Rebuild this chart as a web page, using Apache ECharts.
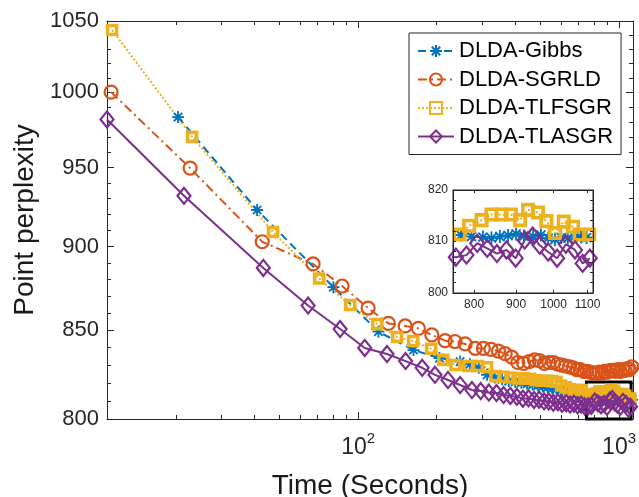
<!DOCTYPE html>
<html>
<head>
<meta charset="utf-8">
<script src="https://cdn.jsdelivr.net/npm/echarts@6/dist/echarts.min.js"></script>
<style>
html, body { margin: 0; padding: 0; background: #fff; }
#chart { width: 639px; height: 497px; }
</style>
</head>
<body>
<div id="chart"></div>
<script>
// time (seconds) / perplexity
var gibbsT = [20.4, 41, 80.4, 119.6, 163, 205, 246, 268, 290, 312, 334, 356, 378, 400, 422, 444, 466, 488, 510, 532, 554, 576, 598, 620, 642, 664, 686, 708, 730, 752, 771, 794, 820, 840, 860, 880, 900, 920, 944, 965, 985, 1004, 1022, 1041, 1063, 1080, 1097, 1120];
var gibbsV = [983.3, 922.8, 875.4, 849.2, 838.6, 834, 832, 830.5, 828.5, 824.5, 823, 822, 821, 820.5, 820, 819.5, 819, 818.5, 818, 817.5, 817, 816.5, 816, 815, 814.5, 814, 813.5, 813, 812.5, 812, 811.2, 810.9, 810.8, 810.6, 810.9, 811.1, 811.4, 811.0, 810.9, 811.2, 810.6, 810.3, 810.7, 810.6, 811.0, 810.8, 810.7, 810.6];

var sgrldT = [11.3, 22.7, 42.9, 67.2, 86.8, 109.2, 130.6, 151.4, 170.2, 191.6, 215.4, 235, 257, 281, 302, 323, 345, 366, 388, 409, 431, 452, 474, 495, 517, 538, 560, 581, 603, 624, 646, 667, 689, 710, 732, 753, 775, 796, 818, 839, 861, 882, 904, 925, 947, 968, 990, 1011, 1033, 1054, 1076, 1097, 1119];
var sgrldV = [1000.2, 949.6, 903, 889.4, 876.1, 863, 854, 852.5, 851.1, 847.3, 844, 843.5, 842.1, 839.6, 839.5, 839, 838, 836.5, 834.5, 831.5, 831, 832, 833, 832.5, 831, 831.5, 831.5, 830.5, 830, 829.5, 829, 828.5, 827.5, 827.5, 826.5, 826.5, 826, 825.5, 825.5, 826, 825.5, 826.5, 826, 827, 827, 826.5, 827.5, 826.5, 827.5, 827, 828, 827.5, 829];

var tlfsgrT = [11.4, 23.1, 47.2, 70.9, 93.2, 118.3, 141, 162.5, 190.5, 212, 236, 264, 288, 312, 336, 360, 384, 408, 432, 456, 480, 504, 528, 552, 576, 600, 624, 648, 672, 696, 720, 744, 768, 789, 817, 840, 864, 887, 910, 931, 957, 980, 1004, 1029, 1056, 1076, 1105];
var tlfsgrV = [1043.6, 970.1, 909, 880.6, 864.8, 853.6, 846.1, 843.8, 839.3, 833, 830.1, 829.5, 829.5, 828.8, 823.8, 823.4, 823, 822.5, 822.5, 822.3, 821.5, 821.2, 821.2, 821, 820.6, 818.5, 817.5, 816.5, 816, 816, 816, 813.5, 811.3, 813.0, 814.1, 815.2, 815.2, 815.2, 814.1, 816.1, 815.6, 813.9, 811.6, 813.8, 812.8, 811.3, 811.3];

var tlasgrT = [10.9, 21.5, 43.3, 64.3, 85.3, 106, 129, 152, 176, 197, 221, 246, 273, 295, 317, 339, 361, 383, 406, 428, 450, 472, 494, 516, 538, 560, 583, 605, 627, 649, 671, 694, 716, 738, 760, 783, 807, 830, 853, 876, 899, 922, 943, 962, 985, 1010, 1035, 1062, 1085, 1107];
var tlasgrV = [981.7, 931.8, 887, 864.5, 850.7, 839.8, 836.3, 832.3, 828.5, 824.5, 821.6, 818.8, 816, 815.4, 814.6, 814.3, 813.2, 812.7, 812.2, 811.2, 811.4, 810.5, 810.6, 809.7, 809.6, 808.9, 809.2, 808.3, 808.7, 807.9, 808.4, 807.5, 807.9, 807.0, 806.9, 807.3, 809.6, 808.6, 807.6, 808.3, 806.7, 810.2, 811.0, 809.2, 807.9, 806.7, 809.4, 808.3, 805.7, 806.7];

// axis ticks
var xMajor = [100, 1000];
var xMinor = [20, 30, 40, 50, 60, 70, 80, 90, 200, 300, 400, 500, 600, 700, 800, 900];
var yMajor = [800, 850, 900, 950, 1000, 1050];
var yMinor = [810, 820, 830, 840, 860, 870, 880, 890, 910, 920, 930, 940, 960, 970, 980, 990, 1010, 1020, 1030, 1040];
var insetXTicks = [800, 900, 1000, 1100];
var insetYLabels = [800, 810, 820];
var insetYTicks = [800, 802, 804, 806, 808, 810, 812, 814, 816, 818, 820];

// zoomed region (shown in the inset)
var zoomBoxT = [750, 1112];
var zoomBoxV = [800, 820.5];

var names = ['DLDA-Gibbs', 'DLDA-SGRLD', 'DLDA-TLFSGR', 'DLDA-TLASGR'];

var FONT = '"Liberation Sans", Arial, sans-serif';
var AXC = '#262626';
var cGibbs = '#0072BD', cSgrld = '#D95319', cTlfsgr = '#EDB120', cTlasgr = '#7E2F8E';
var STAR = 'path://M0,-10L0,10M-10,0L10,0M-7,-7L7,7M-7,7L7,-7';
var NONE = 'rgba(0,0,0,0)';

function pairs(t, v) {
	return t.map(function(x, i) { return [x, v[i]]; });
}

function plain(v) {
	return String(Math.round(v));
}

function axisX(opt) {
	return Object.assign({
		type: 'log',
		min: 10.9,
		max: 1131,
		gridIndex: 0,
		axisLine: { show: false, lineStyle: { color: AXC, width: 1 } },
		axisTick: { inside: true, length: 4, lineStyle: { color: AXC } },
		axisLabel: { show: false },
		splitLine: { show: false },
		minorTick: { show: false }
	}, opt);
}

function axisY(opt) {
	return Object.assign({
		type: 'log',
		min: 800,
		max: 1050,
		gridIndex: 0,
		axisLine: { show: false, lineStyle: { color: AXC, width: 1 } },
		axisTick: { inside: true, length: 4, lineStyle: { color: AXC } },
		axisLabel: { show: false },
		splitLine: { show: false }
	}, opt);
}

var styles = {
	'DLDA-Gibbs': {
		symbol: STAR, symbolSize: 12, insetSize: 13,
		lineStyle: { color: cGibbs, width: 2, type: [8, 5] },
		itemStyle: { color: cGibbs, borderColor: cGibbs, borderWidth: 1.8 }
	},
	'DLDA-SGRLD': {
		symbol: 'circle', symbolSize: 13, insetSize: 13,
		lineStyle: { color: cSgrld, width: 2, type: [9, 4, 2, 4] },
		itemStyle: { color: NONE, borderColor: cSgrld, borderWidth: 2.2 }
	},
	'DLDA-TLFSGR': {
		symbol: 'rect', symbolSize: 9, insetSize: 10.5,
		lineStyle: { color: cTlfsgr, width: 2, type: [2, 2] },
		itemStyle: { color: NONE, borderColor: cTlfsgr, borderWidth: 3.6 }
	},
	'DLDA-TLASGR': {
		symbol: 'diamond', symbolSize: [13, 16], insetSize: [14, 17],
		lineStyle: { color: cTlasgr, width: 2, type: 'solid' },
		itemStyle: { color: NONE, borderColor: cTlasgr, borderWidth: 2.2 }
	}
};

function lineSeries(name, t, v, xi, yi, inset) {
	var s = styles[name];
	return {
		name: name,
		type: 'line',
		xAxisIndex: xi,
		yAxisIndex: yi,
		data: pairs(t, v),
		symbol: s.symbol,
		symbolSize: inset ? s.insetSize : s.symbolSize,
		showAllSymbol: true,
		clip: inset,
		lineStyle: s.lineStyle,
		itemStyle: s.itemStyle,
		emphasis: { disabled: true },
		z: inset ? 12 : 2,
		animation: false
	};
}

var chart = echarts.init(document.getElementById('chart'));

var option = {
	backgroundColor: '#fff',
	animation: false,
	textStyle: { fontFamily: FONT },
	grid: [
		{ left: 107, right: 6, top: 21, bottom: 78, outerBoundsMode: 'none', containLabel: false },
		{ left: 453, top: 190, width: 140, height: 103, outerBoundsMode: 'none', containLabel: false, show: true, backgroundColor: '#fff', borderColor: AXC, borderWidth: 1, z: 10 }
	],
	legend: {
		data: names,
		orient: 'vertical',
		left: 409,
		top: 33,
		itemWidth: 36,
		itemHeight: 15,
		itemGap: 6.5,
		padding: [7, 8, 7, 8],
		backgroundColor: '#fff',
		borderColor: AXC,
		borderWidth: 1,
		textStyle: { fontFamily: FONT, fontSize: 22, color: '#000', lineHeight: 22 },
		z: 20
	},
	xAxis: [
		axisX({
			position: 'bottom',
			axisLine: { show: true, lineStyle: { color: AXC, width: 1 } },
			axisTick: { inside: true, length: 7, customValues: xMajor, lineStyle: { color: AXC } },
			axisLabel: {
				show: true,
				customValues: xMajor,
				margin: 12,
				formatter: function(v) {
					return '{b|10}{s|' + Math.round(Math.log10(v)) + '}';
				},
				rich: {
					b: { fontFamily: FONT, fontSize: 23, color: AXC, verticalAlign: 'bottom', lineHeight: 28 },
					s: { fontFamily: FONT, fontSize: 15, color: AXC, verticalAlign: 'top', lineHeight: 28 }
				}
			},
			name: 'Time (Seconds)',
			nameLocation: 'middle',
			nameGap: 53,
			nameTextStyle: { fontFamily: FONT, fontSize: 28, color: '#1a1a1a' }
		}),
		axisX({ position: 'bottom', axisTick: { inside: true, length: 4, customValues: xMinor, lineStyle: { color: AXC } } }),
		axisX({
			position: 'top',
			axisLine: { show: true, lineStyle: { color: AXC, width: 1 } },
			axisTick: { inside: true, length: 7, customValues: xMajor, lineStyle: { color: AXC } }
		}),
		axisX({ position: 'top', axisTick: { inside: true, length: 4, customValues: xMinor, lineStyle: { color: AXC } } }),
		// inset axes
		{
			type: 'log', gridIndex: 1, min: 754, max: 1117, position: 'bottom', z: 13,
			axisLine: { show: true, lineStyle: { color: AXC, width: 1 } },
			axisTick: { inside: true, length: 3, customValues: insetXTicks, lineStyle: { color: AXC } },
			axisLabel: { customValues: insetXTicks, formatter: plain, fontFamily: FONT, fontSize: 12, color: AXC, margin: 6 },
			splitLine: { show: false }
		},
		{
			type: 'log', gridIndex: 1, min: 754, max: 1117, position: 'top', z: 13,
			axisLine: { show: true, lineStyle: { color: AXC, width: 1 } },
			axisTick: { inside: true, length: 3, customValues: insetXTicks, lineStyle: { color: AXC } },
			axisLabel: { show: false },
			splitLine: { show: false }
		}
	],
	yAxis: [
		axisY({
			position: 'left',
			axisLine: { show: true, lineStyle: { color: AXC, width: 1 } },
			axisTick: { inside: true, length: 7, customValues: yMajor, lineStyle: { color: AXC } },
			axisLabel: { show: true, customValues: yMajor, formatter: plain, fontFamily: FONT, fontSize: 22, color: AXC, margin: 8 },
			name: 'Point perplexity',
			nameLocation: 'middle',
			nameGap: 58,
			nameTextStyle: { fontFamily: FONT, fontSize: 28, color: '#1a1a1a' }
		}),
		axisY({ position: 'left', axisTick: { inside: true, length: 4, customValues: yMinor, lineStyle: { color: AXC } } }),
		axisY({
			position: 'right',
			axisLine: { show: true, lineStyle: { color: AXC, width: 1 } },
			axisTick: { inside: true, length: 7, customValues: yMajor, lineStyle: { color: AXC } }
		}),
		axisY({ position: 'right', axisTick: { inside: true, length: 4, customValues: yMinor, lineStyle: { color: AXC } } }),
		{
			type: 'log', gridIndex: 1, min: 800, max: 820, position: 'left', z: 13,
			axisLine: { show: true, lineStyle: { color: AXC, width: 1 } },
			axisTick: { inside: true, length: 3, customValues: insetYTicks, lineStyle: { color: AXC } },
			axisLabel: { customValues: insetYLabels, formatter: plain, fontFamily: FONT, fontSize: 12, color: AXC, margin: 5 },
			splitLine: { show: false }
		},
		{
			type: 'log', gridIndex: 1, min: 800, max: 820, position: 'right', z: 13,
			axisLine: { show: true, lineStyle: { color: AXC, width: 1 } },
			axisTick: { inside: true, length: 3, customValues: insetYTicks, lineStyle: { color: AXC } },
			axisLabel: { show: false },
			splitLine: { show: false }
		}
	],
	series: [
		lineSeries('DLDA-Gibbs', gibbsT, gibbsV, 0, 0, false),
		lineSeries('DLDA-SGRLD', sgrldT, sgrldV, 0, 0, false),
		lineSeries('DLDA-TLFSGR', tlfsgrT, tlfsgrV, 0, 0, false),
		lineSeries('DLDA-TLASGR', tlasgrT, tlasgrV, 0, 0, false),
		{
			type: 'line',
			xAxisIndex: 0,
			yAxisIndex: 0,
			data: [[zoomBoxT[0], zoomBoxV[1]]],
			symbol: 'none',
			lineStyle: { opacity: 0 },
			silent: true,
			z: 5,
			markArea: {
				silent: true,
				itemStyle: { color: NONE, borderColor: '#000', borderWidth: 3 },
				data: [[{ coord: [zoomBoxT[0], zoomBoxV[0]] }, { coord: [zoomBoxT[1], zoomBoxV[1]] }]]
			}
		},
		lineSeries('DLDA-Gibbs', gibbsT, gibbsV, 4, 4, true),
		lineSeries('DLDA-TLFSGR', tlfsgrT, tlfsgrV, 4, 4, true),
		lineSeries('DLDA-TLASGR', tlasgrT, tlasgrV, 4, 4, true)
	]
};

chart.setOption(option);
</script>
</body>
</html>
